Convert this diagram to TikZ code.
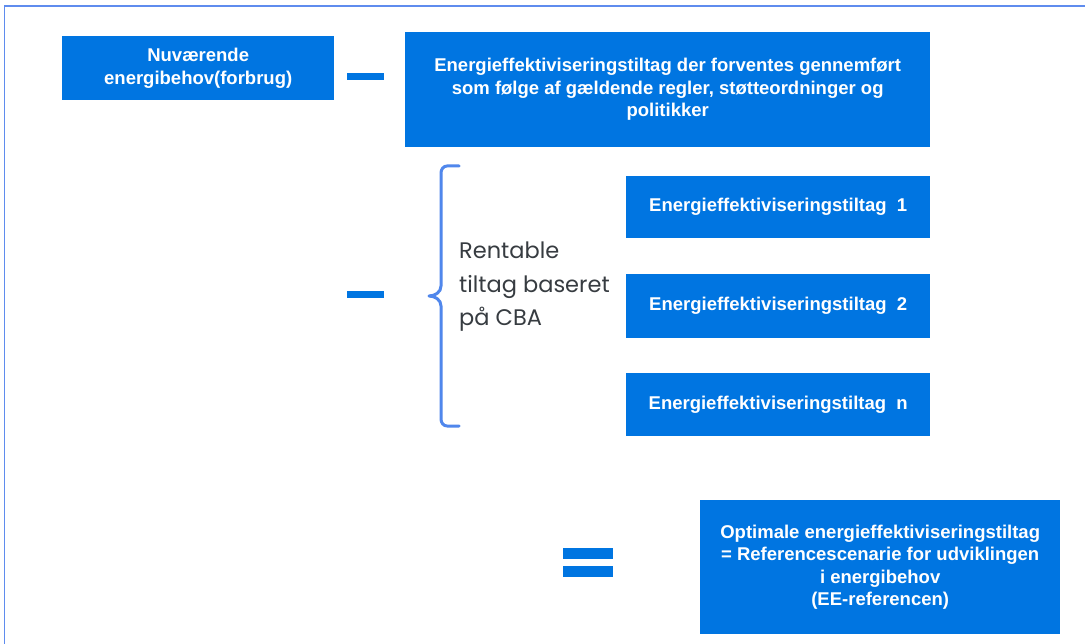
\documentclass[tikz,border=0pt]{standalone}
\usepackage{fontspec}
\setmainfont{Liberation Sans}
\newfontfamily\labelfont{Poppins}
\definecolor{boxblue}{RGB}{0,117,225}
\definecolor{frameblue}{RGB}{95,140,238}
\definecolor{braceblue}{RGB}{80,135,236}
\definecolor{labelgray}{RGB}{55,60,65}
\tikzset{
  x=1pt, y=-1pt,
  bluebox/.style={fill=boxblue, draw=none, anchor=north west, inner sep=0pt,
    align=center, text=white, font=\fontsize{18.5}{22.5}\selectfont\bfseries},
  opbar/.style={fill=boxblue, draw=none, anchor=north west, inner sep=0pt}
}
\begin{document}
\begin{tikzpicture}
\useasboundingbox (0,0) rectangle (1085,644);
\fill[white] (0,0) rectangle (1085,644);
% outer frame (top and left edges)
\draw[frameblue, line width=1.5pt] (4.5,644) -- (4.5,6) -- (1085,6);

% boxes
\node[bluebox, minimum width=272pt, minimum height=64pt] (now) at (62,36)
  {Nuværende\\energibehov(forbrug)};
\node[bluebox, minimum width=525pt, minimum height=115pt] (policy) at (405,32)
  {Energieffektiviseringstiltag der forventes gennemført\\som følge af gældende regler, støtteordninger og\\politikker};
\node[bluebox, minimum width=304pt, minimum height=62pt] (m1) at (626,176)
  {Energieffektiviseringstiltag\ \ 1};
\node[bluebox, minimum width=304pt, minimum height=64pt] (m2) at (626,274)
  {Energieffektiviseringstiltag\ \ 2};
\node[bluebox, minimum width=304pt, minimum height=63pt] (mn) at (626,373)
  {Energieffektiviseringstiltag\ \ n};
\node[bluebox, minimum width=360pt, minimum height=134pt] (result) at (700,500)
  {Optimale energieffektiviseringstiltag\\= Referencescenarie for udviklingen\\i energibehov\\(EE-referencen)};

% operators
\node[opbar, minimum width=37pt, minimum height=7pt] (minusA) at (347,73) {};
\node[opbar, minimum width=37pt, minimum height=7pt] (minusB) at (347,291) {};
\node[opbar, minimum width=50pt, minimum height=11pt] (eqtop) at (563,548) {};
\node[opbar, minimum width=50pt, minimum height=11pt] (eqbot) at (563,566) {};

% brace grouping the measures
\draw[braceblue, line width=3pt, line cap=round, line join=round]
  (459,166) -- (447,166) to[out=180,in=90] (441,173) -- (441,286)
  to[out=-90,in=0] (429,296)
  (429,296) to[out=0,in=90] (441,306) -- (441,419)
  to[out=-90,in=180] (447,426) -- (459,426);

% label of the group
\node[anchor=west, align=left, inner sep=0pt, text=labelgray,
  font=\labelfont\fontsize{22.5}{33.5}\selectfont] (cba) at (459,287)
  {Rentable\\tiltag baseret\\på CBA};
\end{tikzpicture}
\end{document}
